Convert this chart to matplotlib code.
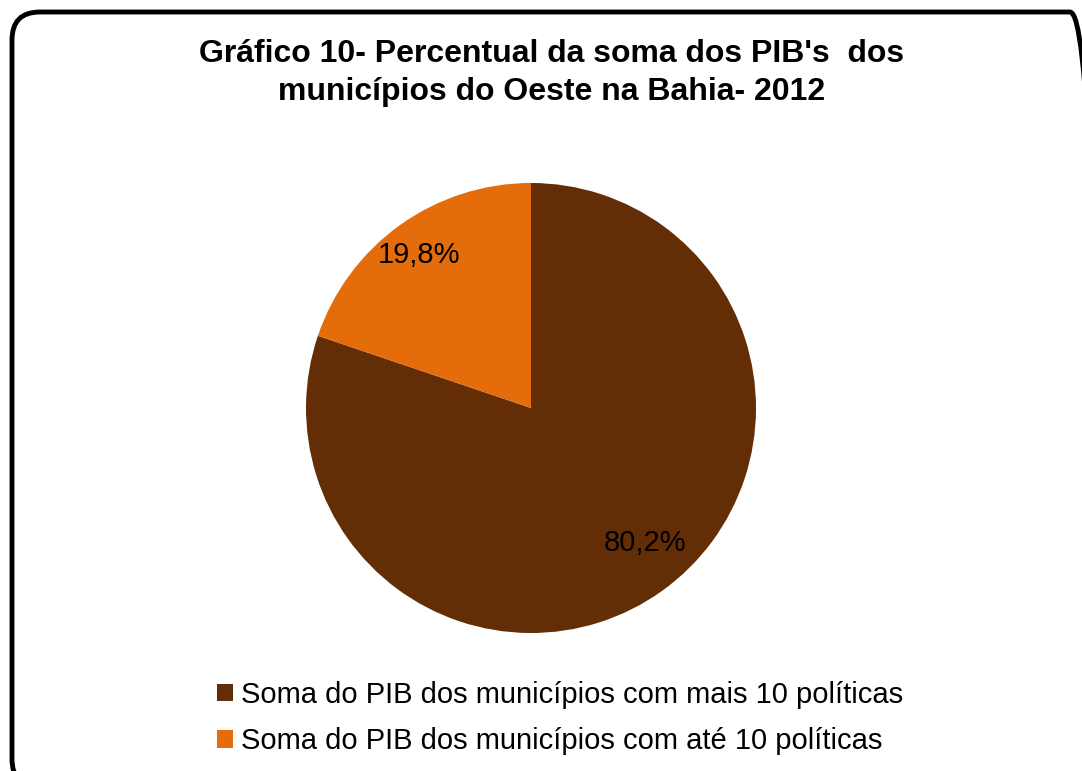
import matplotlib.pyplot as plt
from matplotlib.patches import FancyBboxPatch

title = "Gráfico 10- Percentual da soma dos PIB's  dos\nmunicípios do Oeste na Bahia- 2012"
labels = ["Soma do PIB dos municípios com mais 10 políticas",
          "Soma do PIB dos municípios com até 10 políticas"]
values = [80.2, 19.8]
colors = ["#632E05", "#E46C0A"]

plt.rcParams['font.family'] = ['Liberation Sans', 'DejaVu Sans']

W, H = 1082, 771
fig = plt.figure(figsize=(W / 100, H / 100), dpi=100)

# background axes in pixel units for the rounded frame
bg = fig.add_axes([0, 0, 1, 1])
bg.set_xlim(0, W)
bg.set_ylim(0, H)
bg.axis("off")
bg.add_patch(FancyBboxPatch((12, -16), 1086, H - 12 + 16,
                            boxstyle="round,pad=0,rounding_size=28",
                            fill=False, edgecolor="black", linewidth=3.5,
                            clip_on=False))

fig.text(552 / W, 1 - 73 / H, title, ha="center", va="center",
         fontsize=23, fontweight="bold", linespacing=1.36)

cx, cy, r = 531, 408, 225
ax = fig.add_axes([(cx - r) / W, (H - cy - r) / H, 2 * r / W, 2 * r / H])
wedges, texts, autotexts = ax.pie(
    values, colors=colors, startangle=90, counterclock=False,
    autopct=lambda p: f"{p:.1f}%".replace(".", ","), pctdistance=0.8,
    textprops={"fontsize": 21, "color": "black"},
    wedgeprops={"linewidth": 0})
# small nudge to match the label placement of the original
for t, (dx, dy) in zip(autotexts, [(0.04, 0.05), (-0.03, 0.03)]):
    x, y = t.get_position()
    t.set_position((x + dx, y + dy))
ax.set_xlim(-1, 1)
ax.set_ylim(-1, 1)
ax.set_aspect("equal")
ax.axis("off")

fig.legend(wedges, labels, loc="center", bbox_to_anchor=(560 / W, 1 - 718 / H),
           frameon=False, fontsize=21, handlelength=0.55, handleheight=0.55,
           handletextpad=0.25, labelspacing=0.62)

plt.savefig("out.png", dpi=100)
